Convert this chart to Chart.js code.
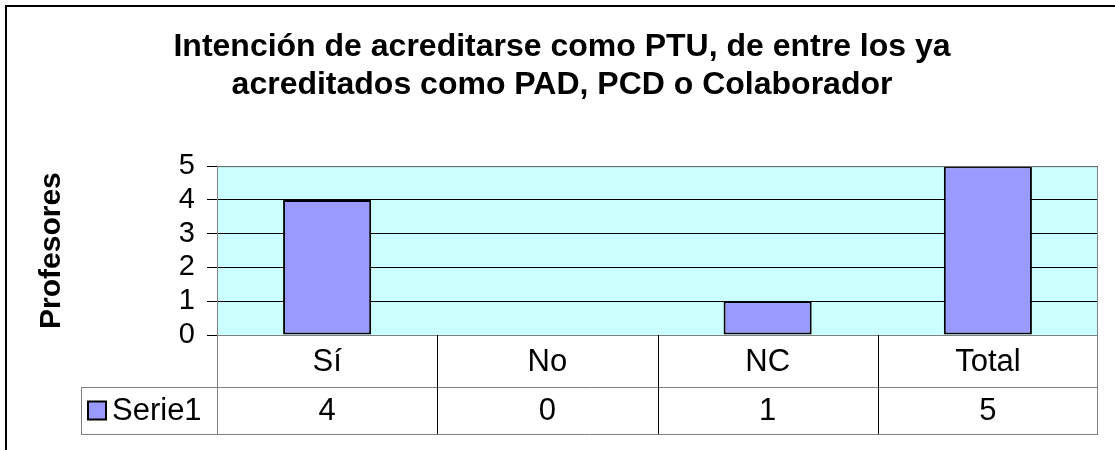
<!DOCTYPE html>
<html>
<head>
<meta charset="utf-8">
<script src="https://cdn.jsdelivr.net/npm/chart.js@4"></script>
<style>
html,body{margin:0;padding:0;background:#fff;}
#wrap{width:1115px;height:450px;position:relative;}
</style>
</head>
<body>
<div id="wrap"><canvas id="c" width="1115" height="450"></canvas></div>
<script>
const categories = ['Sí', 'No', 'NC', 'Total'];
const serie1 = [4, 0, 1, 5];
const seriesName = 'Serie1';
const titleLines = ['Intención de acreditarse como PTU, de entre los ya', 'acreditados como PAD, PCD o Colaborador'];
const yTitle = 'Profesores';

const FONT = "Arial, 'Liberation Sans', sans-serif";
const BAR = '#9999FF';
const TXT = 31;

const framePlugin = {
  id: 'frame',
  beforeDraw(chart) {
    const ctx = chart.ctx;
    const a = chart.chartArea;
    ctx.save();
    ctx.fillStyle = '#fff';
    ctx.fillRect(0, 0, chart.width, chart.height);
    ctx.strokeStyle = '#000';
    ctx.lineWidth = 2;
    ctx.beginPath();
    ctx.moveTo(6, chart.height);
    ctx.lineTo(6, 6);
    ctx.lineTo(chart.width, 6);
    ctx.stroke();
    ctx.fillStyle = '#CCFFFF';
    ctx.fillRect(a.left, a.top, a.right - a.left, a.bottom - a.top);
    ctx.restore();
  },
  afterDatasetsDraw(chart) {
    const ctx = chart.ctx;
    const a = chart.chartArea;
    const x = chart.scales.x;
    ctx.save();
    ctx.strokeStyle = '#808080';
    ctx.lineWidth = 1;
    ctx.strokeRect(a.left + 0.5, a.top + 0.5, a.right - a.left - 1, a.bottom - a.top);
    const n = categories.length;
    const colW = (a.right - a.left) / n;
    const row1Top = a.bottom;
    const row2Top = a.bottom + 52;
    const row2Bot = a.bottom + 99;
    const legLeft = 81;
    ctx.strokeStyle = '#808080';
    ctx.beginPath();
    ctx.moveTo(legLeft, row2Top + 0.5); ctx.lineTo(a.right, row2Top + 0.5);
    ctx.moveTo(legLeft, row2Bot + 0.5); ctx.lineTo(a.right, row2Bot + 0.5);
    ctx.moveTo(legLeft + 0.5, row2Top); ctx.lineTo(legLeft + 0.5, row2Bot);
    ctx.moveTo(a.left + 0.5, row1Top); ctx.lineTo(a.left + 0.5, row2Bot);
    ctx.moveTo(a.right - 0.5, row1Top); ctx.lineTo(a.right - 0.5, row2Bot);
    ctx.stroke();
    ctx.strokeStyle = '#000';
    ctx.beginPath();
    for (let i = 1; i < n; i++) {
      const xx = Math.round(a.left + colW * i) + 0.5;
      ctx.moveTo(xx, row1Top); ctx.lineTo(xx, row2Bot);
    }
    ctx.stroke();
    ctx.fillStyle = '#000';
    ctx.font = TXT + 'px ' + FONT;
    ctx.textAlign = 'center';
    ctx.textBaseline = 'middle';
    for (let i = 0; i < n; i++) {
      const cx = x.getPixelForValue(i);
      ctx.fillText(categories[i], cx, (row1Top + row2Top) / 2 + 1);
      ctx.fillText(String(serie1[i]), cx, (row2Top + row2Bot) / 2 + 1);
    }
    const ky = (row2Top + row2Bot) / 2;
    ctx.fillStyle = BAR;
    ctx.fillRect(88, ky - 9, 18, 18);
    ctx.strokeStyle = '#000';
    ctx.lineWidth = 2;
    ctx.strokeRect(88, ky - 9, 18, 18);
    ctx.fillStyle = '#000';
    ctx.textAlign = 'left';
    ctx.fillText(seriesName, 112, ky + 1);
    ctx.restore();
  }
};

new Chart(document.getElementById('c'), {
  type: 'bar',
  data: {
    labels: categories,
    datasets: [{
      label: seriesName,
      data: serie1,
      backgroundColor: BAR,
      borderColor: '#000',
      borderWidth: 2,
      borderSkipped: false,
      categoryPercentage: 1.0,
      barPercentage: 0.4
    }]
  },
  options: {
    responsive: false,
    animation: false,
    devicePixelRatio: 1,
    layout: { padding: { left: 26, right: 17, top: 0, bottom: 115 } },
    plugins: {
      legend: { display: false },
      tooltip: { enabled: false },
      title: {
        display: true,
        text: titleLines,
        color: '#000',
        font: { family: FONT, size: 32, weight: 'bold', lineHeight: 1.19 },
        padding: { top: 28, bottom: 62 }
      }
    },
    scales: {
      x: { display: false },
      y: {
        min: 0, max: 5,
        afterFit(s) { s.width = 191; },
        ticks: { stepSize: 1, autoSkip: false, color: '#000', font: { family: FONT, size: 29 }, padding: 12 },
        grid: { color: '#000', lineWidth: 1, tickLength: 10, tickColor: '#000', drawOnChartArea: true },
        border: { color: '#808080', width: 1 },
        title: {
          display: true, text: yTitle, color: '#000',
          font: { family: FONT, size: 30, weight: 'bold' },
          padding: { top: 8, bottom: 0 }
        }
      }
    }
  },
  plugins: [framePlugin]
});
</script>
</body>
</html>
